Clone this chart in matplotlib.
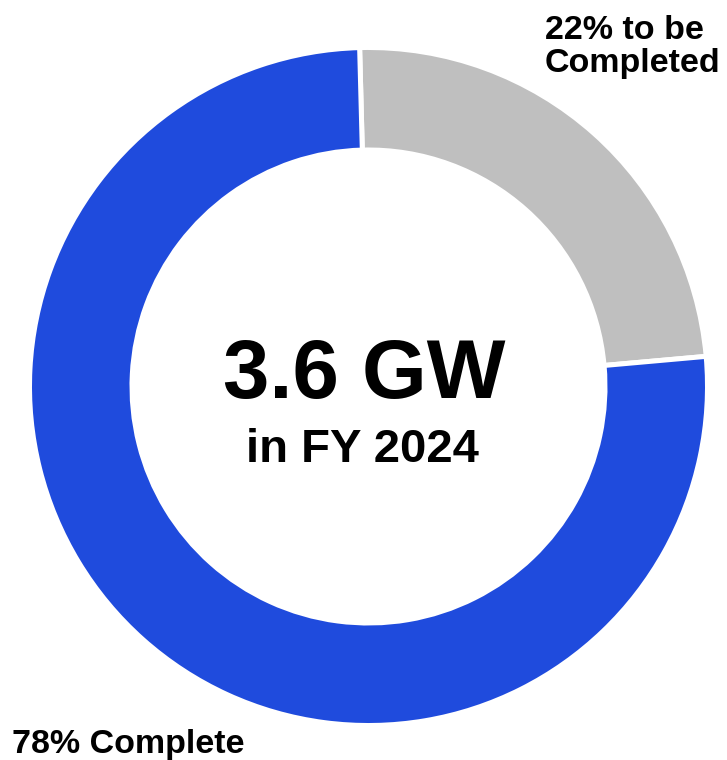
import matplotlib
matplotlib.use("Agg")
import matplotlib.pyplot as plt

# Data
categories = ["To be Completed", "Complete"]
shares = [24, 76]          # drawn proportions read from the ring
colors = ["#BFBFBF", "#1F4BDD"]
center_value = "3.6 GW"
center_sub = "in FY 2024"
label_todo = "22% to be\nCompleted"
label_done = "78% Complete"

W, H = 727, 760
fig = plt.figure(figsize=(W / 100, H / 100), dpi=100)
ax = fig.add_axes([0, 0, 1, 1])
ax.set_xlim(0, W)
ax.set_ylim(0, H)
ax.axis("off")

lw_pt = 3.6
lw_px = lw_pt * 100 / 72
R = 336.5 + lw_px / 2
ring = 97.5 + lw_px
ax.pie(shares, colors=colors, startangle=91.5, counterclock=False,
       center=(368.5, 760 - 386.5), radius=R,
       wedgeprops=dict(width=ring, edgecolor="white", linewidth=lw_pt))
ax.set_xlim(0, W)
ax.set_ylim(0, H)
ax.set_aspect("equal")

font = "Liberation Sans"
ax.text(364, 760 - 398, center_value, ha="center", va="baseline",
        fontsize=60, fontweight="bold", family=font)
ax.text(362.5, 760 - 462, center_sub, ha="center", va="baseline",
        fontsize=34, fontweight="bold", family=font)
ax.text(545, 760 - 72, label_todo, ha="left", va="baseline",
        fontsize=24.5, fontweight="bold", family=font, linespacing=1.08)
ax.text(12, 760 - 753, label_done, ha="left", va="baseline",
        fontsize=24.5, fontweight="bold", family=font)

fig.savefig("out.png", dpi=100)
